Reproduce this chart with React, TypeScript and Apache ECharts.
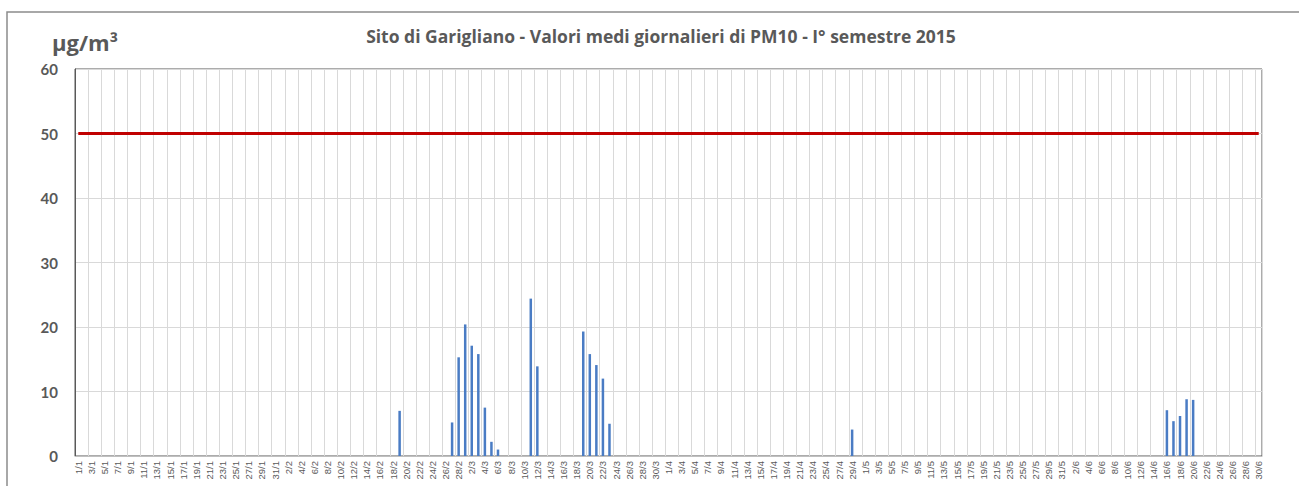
import React, { useEffect, useRef } from "react";
import * as echarts from "echarts";

const monthDays = [31, 28, 31, 30, 31, 30];
const categories: string[] = [];
monthDays.forEach((n, m) => {
  for (let d = 1; d <= n; d++) categories.push(`${d}/${m + 1}`);
});

const measuredDates = [
  "19/2", "27/2", "28/2", "1/3", "2/3", "3/3", "4/3", "5/3", "6/3",
  "11/3", "12/3", "19/3", "20/3", "21/3", "22/3", "23/3", "29/4",
  "16/6", "17/6", "18/6", "19/6", "20/6",
];
const measuredValues = [
  7.0, 5.2, 15.3, 20.4, 17.1, 15.8, 7.5, 2.2, 1.0,
  24.4, 13.9, 19.3, 15.8, 14.1, 12.0, 5.0, 4.1,
  7.1, 5.4, 6.2, 8.8, 8.7,
];
const limitValue = 50;
const yTicks = { min: 0, max: 60, interval: 10 };

const titleText = "Sito di Garigliano - Valori medi giornalieri di PM10 - I° semestre 2015";
const unitText = "µg/m³";

export default function App() {
  const ref = useRef<HTMLDivElement>(null);
  useEffect(() => {
    document.body.style.margin = "0";
    const chart = echarts.init(ref.current!, null, { renderer: "svg" });
    const pm10 = categories.map((c) => {
      const i = measuredDates.indexOf(c);
      return i >= 0 ? measuredValues[i] : null;
    });
    const limit = categories.map(() => limitValue);
    const gray = "#595959";
    chart.setOption({
      animation: false,
      backgroundColor: "#ffffff",
      textStyle: { fontFamily: "Lato" },
      title: {
        text: titleText,
        left: 656,
        textAlign: "center",
        top: 22,
        textStyle: { fontFamily: "Open Sans", fontWeight: "bold", fontSize: 17.5, color: gray },
      },
      graphic: [
        {
          type: "rect",
          shape: { x: 7, y: 12, width: 1310, height: 490 },
          style: { fill: "none", stroke: "#8c8c8c", lineWidth: 1.5 },
          silent: true,
        },
        {
          type: "text",
          left: 52,
          top: 31,
          style: { text: unitText, fontFamily: "Open Sans", fontWeight: "bold", fontSize: 22, fill: gray },
        },
      ],
      grid: {
        left: 75,
        right: 37,
        top: 69,
        bottom: 30,
        show: true,
        borderColor: "#595959",
        borderWidth: 1,
        containLabel: false,
      },
      xAxis: {
        type: "category",
        data: categories,
        boundaryGap: true,
        axisLine: { show: true, lineStyle: { color: "#bfbfbf", width: 1 } },
        axisTick: { show: false, interval: 1 },
        axisLabel: {
          interval: 1,
          rotate: 90,
          fontSize: 9.5,
          color: gray,
          margin: 5,
          fontFamily: "Liberation Sans",
        },
        splitLine: { show: true, interval: 1, lineStyle: { color: "#d9d9d9", width: 1 } },
      },
      yAxis: {
        type: "value",
        min: yTicks.min,
        max: yTicks.max,
        interval: yTicks.interval,
        axisLine: { show: true, lineStyle: { color: "#595959" } },
        axisTick: { show: false },
        axisLabel: { fontSize: 15, fontWeight: "bold", color: gray, margin: 17, fontFamily: "Lato" },
        splitLine: { show: true, lineStyle: { color: "#d9d9d9", width: 1 } },
      },
      series: [
        {
          type: "bar",
          data: pm10,
          barWidth: 2.5,
          itemStyle: { color: "#4a7cc4" },
        },
        {
          type: "line",
          data: limit,
          symbol: "none",
          lineStyle: { color: "#c00000", width: 3 },
          z: 3,
        },
      ],
    });
    return () => chart.dispose();
  }, []);
  return <div ref={ref} style={{ width: 1299, height: 486 }} />;
}
